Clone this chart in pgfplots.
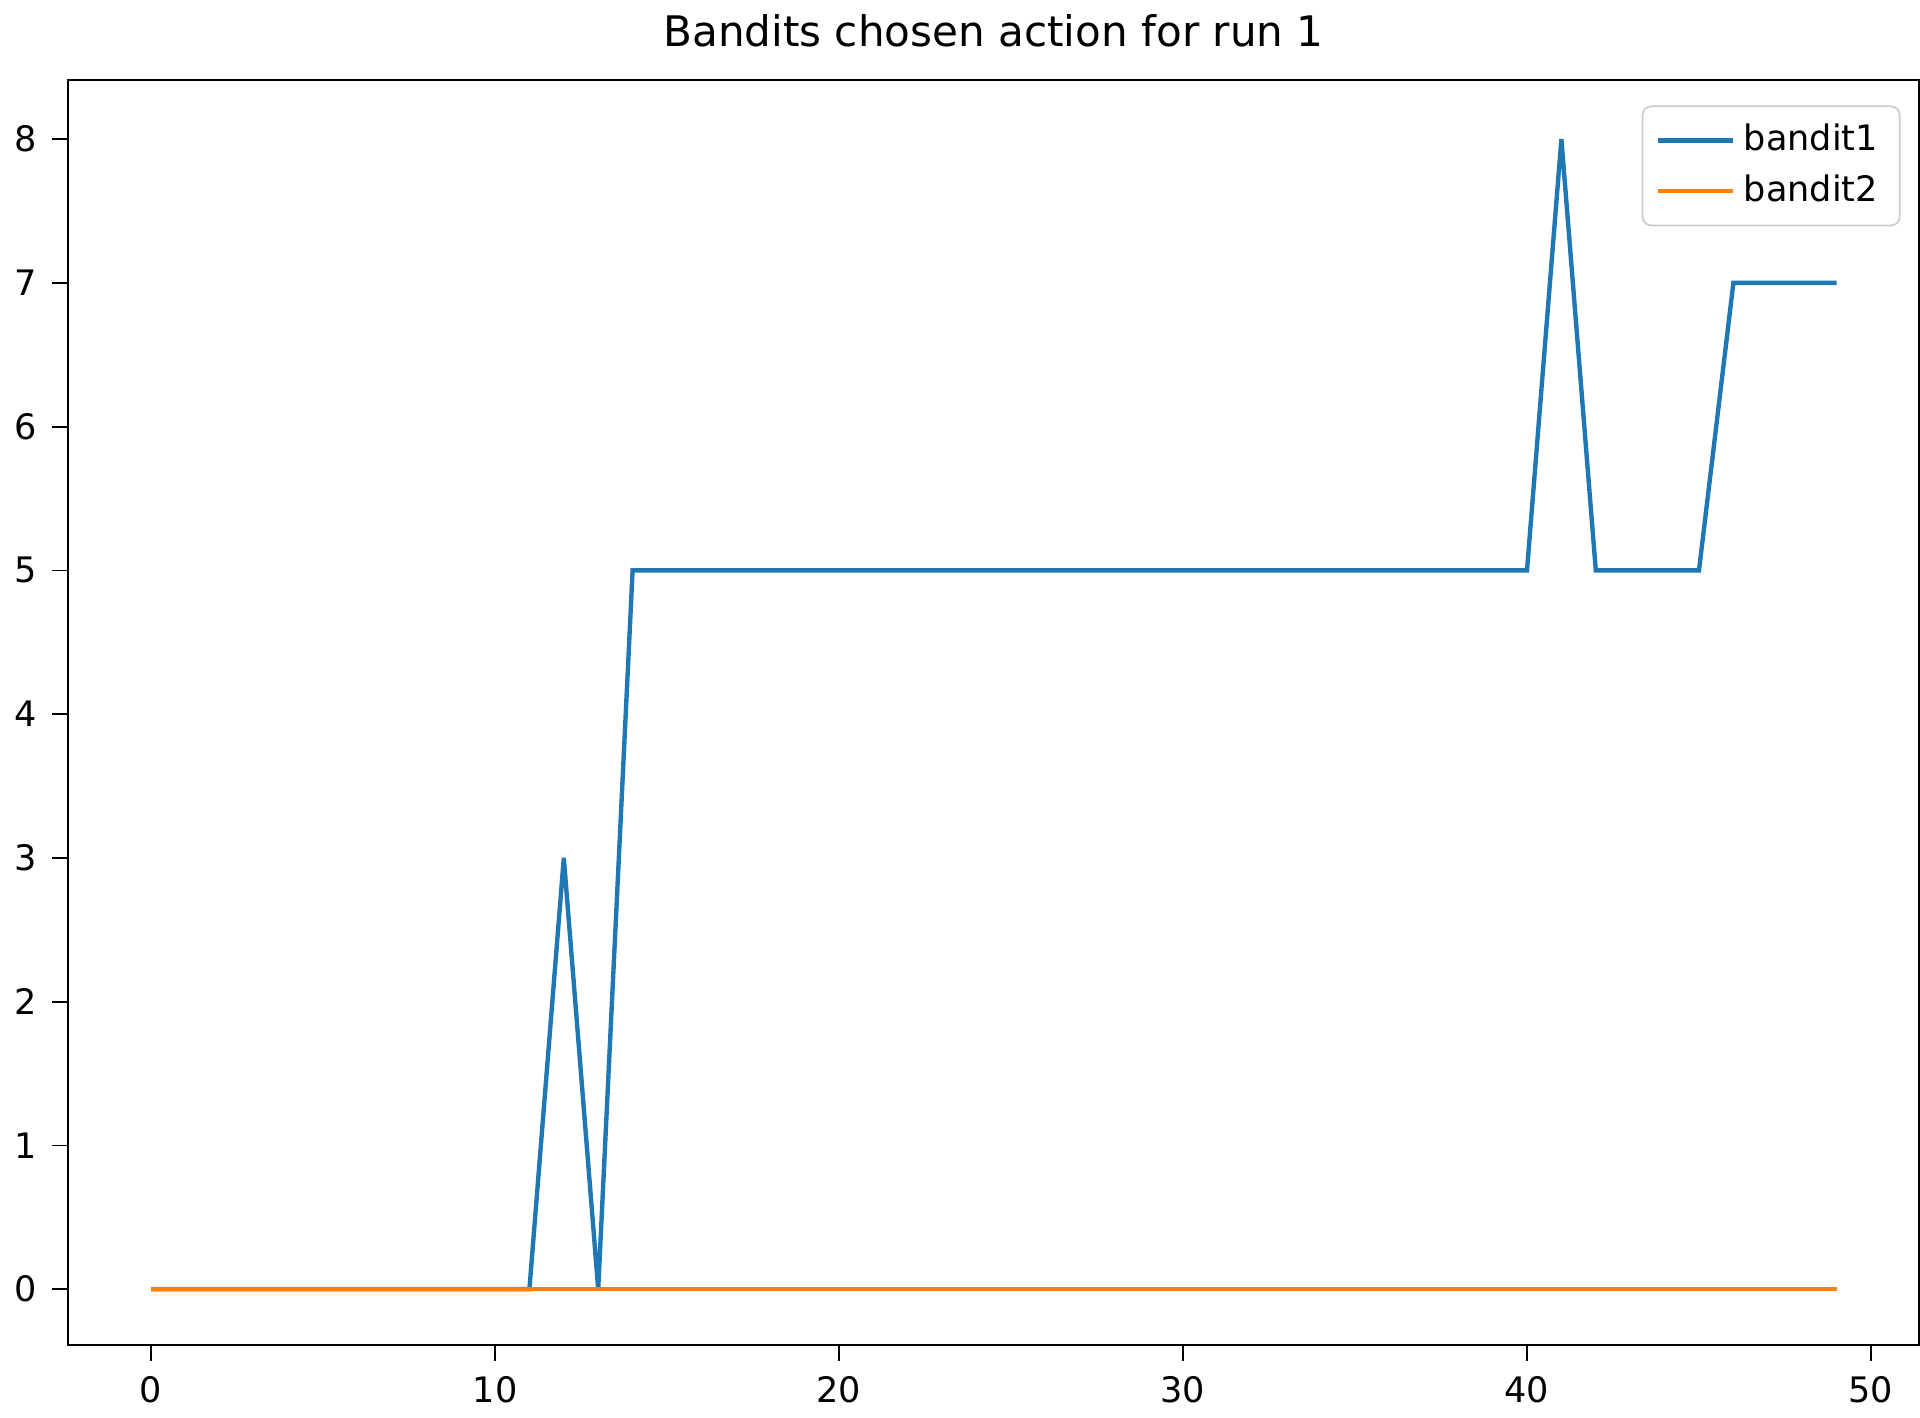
\documentclass[border=0pt]{standalone}
\usepackage{pgfplots}
\pgfplotsset{compat=1.18}
\usepackage{fontspec}
\setmainfont{DejaVu Sans}
\definecolor{c1}{HTML}{1F77B4}
\definecolor{c2}{HTML}{FF7F0E}
\begin{document}
\begin{tikzpicture}
\begin{axis}[scale only axis, width=14.84cm, height=10.14cm,
  xmin=-2.42, xmax=51.4, ymin=-0.39, ymax=8.41,
  xtick={0,10,20,30,40,50}, ytick={0,...,8},
  tick align=outside, tick pos=left, tick style={black, thin}, major tick length=3.5pt,
  ticklabel style={font=\fontsize{8}{10}\selectfont},
  /pgf/number format/assume math mode=true,
  title={Bandits chosen action for run 1}, title style={font=\fontsize{9.6}{11}\selectfont, yshift=-2pt},
  legend pos=north east, legend cell align=left,
  legend style={font=\fontsize{8}{10}\selectfont, draw=black!20, rounded corners=2pt, at={(0.99,0.98)}},
  every axis plot/.append style={line width=1pt}]
\addplot[c1] coordinates {(0,0)(1,0)(2,0)(3,0)(4,0)(5,0)(6,0)(7,0)(8,0)(9,0)(10,0)(11,0)(12,3)(13,0)(14,5)(15,5)(20,5)(25,5)(30,5)(35,5)(40,5)(41,8)(42,5)(43,5)(44,5)(45,5)(46,7)(47,7)(48,7)(49,7)};
\addlegendentry{bandit1}
\addplot[c2] coordinates {(0,0)(10,0)(20,0)(30,0)(40,0)(49,0)};
\addlegendentry{bandit2}
\path (rel axis cs:0,0) ++(-0.85cm,-0.92cm) (rel axis cs:1,1) ++(0.3cm,0.93cm);
\end{axis}
\end{tikzpicture}
\end{document}
